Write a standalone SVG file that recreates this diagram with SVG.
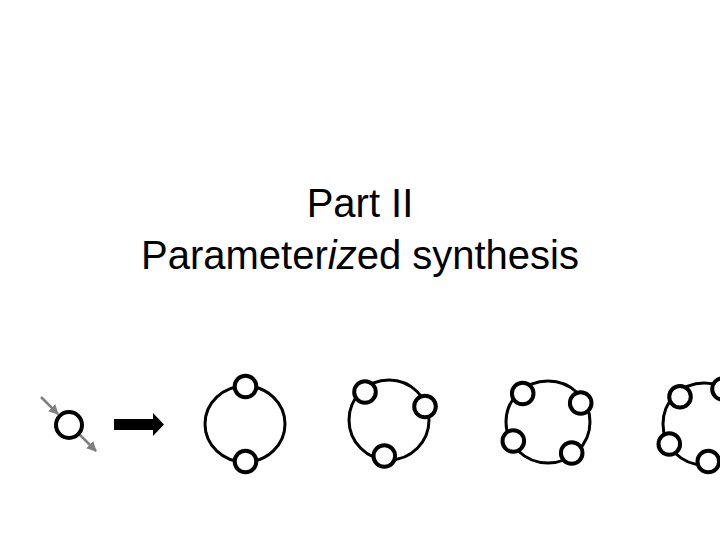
<svg xmlns="http://www.w3.org/2000/svg" width="720" height="540" viewBox="0 0 720 540">
<style>
.t{font-family:"Liberation Sans",Arial,sans-serif;font-size:40px;fill:#000;text-anchor:middle}
.ring{fill:none;stroke:#000;stroke-width:3}
.node{fill:#fff;stroke:#000;stroke-width:4}
.g{stroke:#808080;stroke-width:2.5;fill:none}
</style>
<defs>
<marker id="gh" viewBox="0 0 10 10" refX="9" refY="5" markerWidth="4" markerHeight="4" orient="auto" markerUnits="strokeWidth">
<path d="M0,0 L10,5 L0,10 Z" fill="#808080"/>
</marker>
</defs>
<rect width="720" height="540" fill="#fff"/>
<g id="title">
<text class="t" x="360" y="217">Part II</text>
<text class="t" x="360" y="269">Parameter<tspan font-style="italic">iz</tspan>ed synthesis</text>
</g>
<g id="connectors">
<line class="g" x1="41" y1="397" x2="58" y2="414" marker-end="url(#gh)"/>
<line class="g" x1="79" y1="434" x2="96" y2="451" marker-end="url(#gh)"/>
<polygon points="114,419 153,419 153,413 164,424.5 153,436 153,430 114,430" fill="#000"/>
</g>
<g id="single">
<circle class="node" cx="69" cy="425" r="13"/>
</g>
<g id="ring1">
<ellipse class="ring" cx="245" cy="424" rx="40" ry="38"/>
<circle class="node" cx="245.5" cy="386.5" r="10.8"/>
<circle class="node" cx="245.5" cy="461.5" r="10.8"/>
</g>
<g id="ring2">
<circle class="ring" cx="389" cy="420" r="40"/>
<circle class="node" cx="365" cy="392" r="10.8"/>
<circle class="node" cx="425" cy="406.5" r="10.8"/>
<circle class="node" cx="384.3" cy="456" r="10.8"/>
</g>
<g id="ring3">
<ellipse class="ring" cx="548" cy="422" rx="42" ry="41"/>
<circle class="node" cx="522.7" cy="393.5" r="10.8"/>
<circle class="node" cx="580.7" cy="403" r="10.8"/>
<circle class="node" cx="513.3" cy="441" r="10.8"/>
<circle class="node" cx="571.7" cy="453" r="10.8"/>
</g>
<g id="ring4">
<circle class="ring" cx="704" cy="424" r="41"/>
<circle class="node" cx="680" cy="396.7" r="10.8"/>
<circle class="node" cx="723" cy="389" r="10.8"/>
<circle class="node" cx="669.3" cy="444" r="10.8"/>
<circle class="node" cx="708.3" cy="461.5" r="10.8"/>
</g>
</svg>
